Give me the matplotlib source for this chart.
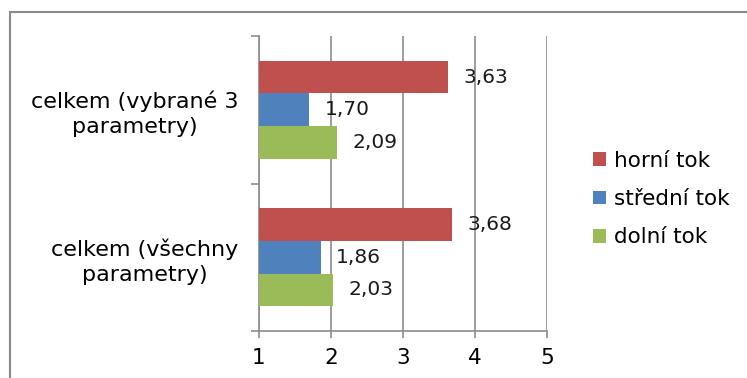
import matplotlib.pyplot as plt
import matplotlib.patches as mpatches
import numpy as np

categories = ["celkem (všechny\nparametry)", "celkem (vybrané 3\nparametry)"]
series = ["horní tok", "střední tok", "dolní tok"]
horni = [3.68, 3.63]
stredni = [1.86, 1.70]
dolni = [2.03, 2.09]
colors = ["#C0504D", "#4F81BD", "#9BBB59"]

plt.rcParams['font.family'] = ['DejaVu Sans']

fig = plt.figure(figsize=(7.47, 3.78), dpi=100)
ax = fig.add_axes([0.3467, 0.1243, 0.3856, 0.7805])

y = np.arange(len(categories))
h = 0.221
offsets = [h, 0, -h]
for vals, off, col, name in zip([horni, stredni, dolni], offsets, colors, series):
    bars = ax.barh(y + off, vals, height=h, color=col, label=name, zorder=3)
    for b, v in zip(bars, vals):
        ax.annotate(f"{v:.2f}".replace(".", ","), (v, b.get_y() + h / 2),
                    xytext=(11, 0), textcoords="offset points",
                    ha="left", va="center", fontsize=14.5, color="#1a1a1a")

ax.set_xlim(1, 5)
ax.set_ylim(-0.5, 1.5)
ax.set_xticks([1, 2, 3, 4, 5])
ax.set_xticklabels(["1", "2", "3", "4", "5"], fontsize=15.5)
ax.xaxis.grid(True, color="#8c8c8c", linewidth=1.2, zorder=0)

# category names sit between the outward ticks on the value axis
ax.set_yticks([-0.5, 0.5, 1.5])
ax.set_yticklabels([])
ax.set_yticks(y, minor=True)
ax.set_yticklabels(categories, minor=True, fontsize=16, ha="right",
                   multialignment="center", linespacing=1.3)
ax.tick_params(axis="y", which="minor", length=0, pad=15)
ax.tick_params(axis="y", which="major", length=6, color="#8c8c8c", width=1.2)
ax.tick_params(axis="x", length=5, color="#8c8c8c", width=1.2, pad=7)

for side in ["top", "right"]:
    ax.spines[side].set_visible(False)
for side in ["left", "bottom"]:
    ax.spines[side].set_color("#8c8c8c")
    ax.spines[side].set_linewidth(1.2)

leg = ax.legend(loc="center left", bbox_to_anchor=(0.7935, 0.4735),
                bbox_transform=fig.transFigure, frameon=False, fontsize=15.5,
                handlelength=0.6, handleheight=0.6, handletextpad=0.4,
                labelspacing=0.85, borderpad=0, borderaxespad=0)

# outer chart border (left and top edges)
fig.patches.append(mpatches.Rectangle((10 / 747, -0.1), 1.2, 0.1 + 366 / 378,
                                      transform=fig.transFigure, fill=False,
                                      edgecolor="#8a8a8a", linewidth=1.5))

fig.savefig("out.png", dpi=100)
